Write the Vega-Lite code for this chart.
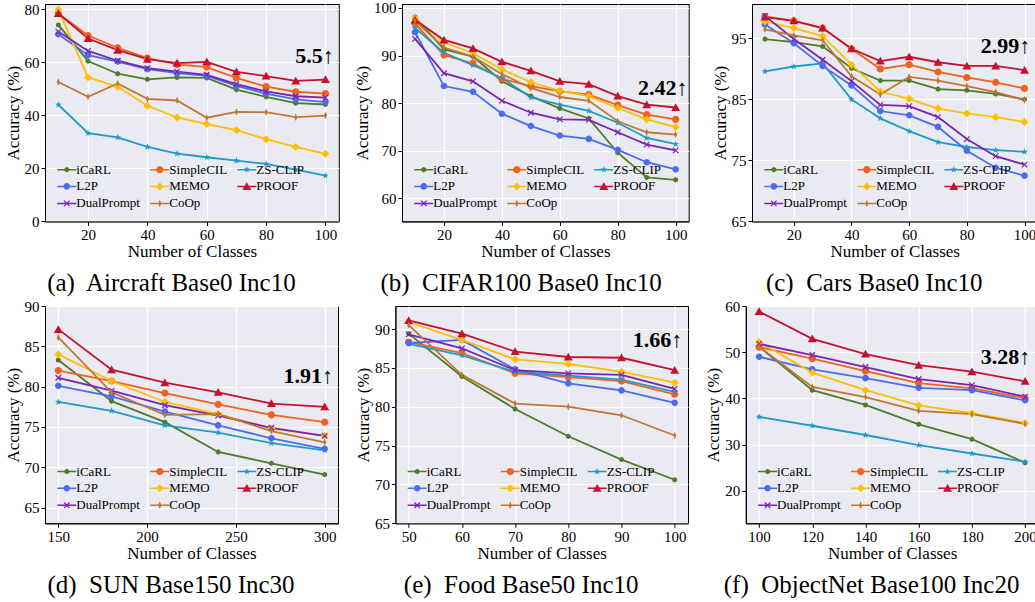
{
  "$schema": "https://vega.github.io/schema/vega-lite/v6.json",
  "background": "white",
  "padding": {"left": 3, "top": 0, "right": 0, "bottom": 0},
  "datasets": {
    "a": [
      {"m":"iCaRL","x":10,"y":74.1},{"m":"iCaRL","x":20,"y":60.5},{"m":"iCaRL","x":30,"y":55.7},{"m":"iCaRL","x":40,"y":53.6},{"m":"iCaRL","x":50,"y":54.3},{"m":"iCaRL","x":60,"y":54.1},{"m":"iCaRL","x":70,"y":49.7},{"m":"iCaRL","x":80,"y":47.0},{"m":"iCaRL","x":90,"y":44.6},{"m":"iCaRL","x":100,"y":44.1},
      {"m":"SimpleCIL","x":10,"y":78.4},{"m":"SimpleCIL","x":20,"y":70.1},{"m":"SimpleCIL","x":30,"y":65.5},{"m":"SimpleCIL","x":40,"y":61.6},{"m":"SimpleCIL","x":50,"y":59.2},{"m":"SimpleCIL","x":60,"y":58.2},{"m":"SimpleCIL","x":70,"y":54.1},{"m":"SimpleCIL","x":80,"y":50.8},{"m":"SimpleCIL","x":90,"y":48.9},{"m":"SimpleCIL","x":100,"y":48.2},
      {"m":"ZS-CLIP","x":10,"y":44.0},{"m":"ZS-CLIP","x":20,"y":33.3},{"m":"ZS-CLIP","x":30,"y":31.7},{"m":"ZS-CLIP","x":40,"y":28.1},{"m":"ZS-CLIP","x":50,"y":25.6},{"m":"ZS-CLIP","x":60,"y":24.2},{"m":"ZS-CLIP","x":70,"y":22.9},{"m":"ZS-CLIP","x":80,"y":21.7},{"m":"ZS-CLIP","x":90,"y":19.5},{"m":"ZS-CLIP","x":100,"y":17.3},
      {"m":"L2P","x":10,"y":70.6},{"m":"L2P","x":20,"y":62.7},{"m":"L2P","x":30,"y":60.3},{"m":"L2P","x":40,"y":57.4},{"m":"L2P","x":50,"y":55.9},{"m":"L2P","x":60,"y":54.9},{"m":"L2P","x":70,"y":51.1},{"m":"L2P","x":80,"y":48.2},{"m":"L2P","x":90,"y":46.0},{"m":"L2P","x":100,"y":45.0},
      {"m":"MEMO","x":10,"y":79.8},{"m":"MEMO","x":20,"y":54.3},{"m":"MEMO","x":30,"y":50.8},{"m":"MEMO","x":40,"y":43.6},{"m":"MEMO","x":50,"y":39.2},{"m":"MEMO","x":60,"y":36.7},{"m":"MEMO","x":70,"y":34.4},{"m":"MEMO","x":80,"y":31.0},{"m":"MEMO","x":90,"y":28.1},{"m":"MEMO","x":100,"y":25.5},
      {"m":"PROOF","x":10,"y":78.4},{"m":"PROOF","x":20,"y":69.0},{"m":"PROOF","x":30,"y":64.6},{"m":"PROOF","x":40,"y":61.2},{"m":"PROOF","x":50,"y":59.7},{"m":"PROOF","x":60,"y":60.2},{"m":"PROOF","x":70,"y":56.4},{"m":"PROOF","x":80,"y":54.8},{"m":"PROOF","x":90,"y":53.0},{"m":"PROOF","x":100,"y":53.5},
      {"m":"DualPrompt","x":10,"y":71.6},{"m":"DualPrompt","x":20,"y":64.3},{"m":"DualPrompt","x":30,"y":60.6},{"m":"DualPrompt","x":40,"y":57.8},{"m":"DualPrompt","x":50,"y":56.5},{"m":"DualPrompt","x":60,"y":55.3},{"m":"DualPrompt","x":70,"y":51.8},{"m":"DualPrompt","x":80,"y":49.0},{"m":"DualPrompt","x":90,"y":47.2},{"m":"DualPrompt","x":100,"y":46.7},
      {"m":"CoOp","x":10,"y":52.6},{"m":"CoOp","x":20,"y":47.0},{"m":"CoOp","x":30,"y":52.0},{"m":"CoOp","x":40,"y":46.2},{"m":"CoOp","x":50,"y":45.6},{"m":"CoOp","x":60,"y":39.1},{"m":"CoOp","x":70,"y":41.3},{"m":"CoOp","x":80,"y":41.2},{"m":"CoOp","x":90,"y":39.3},{"m":"CoOp","x":100,"y":39.9}
    ],
    "b": [
      {"m":"iCaRL","x":10,"y":98.1},{"m":"iCaRL","x":20,"y":91.3},{"m":"iCaRL","x":30,"y":89.8},{"m":"iCaRL","x":40,"y":84.6},{"m":"iCaRL","x":50,"y":81.5},{"m":"iCaRL","x":60,"y":78.9},{"m":"iCaRL","x":70,"y":76.8},{"m":"iCaRL","x":80,"y":69.6},{"m":"iCaRL","x":90,"y":64.4},{"m":"iCaRL","x":100,"y":63.9},
      {"m":"SimpleCIL","x":10,"y":96.7},{"m":"SimpleCIL","x":20,"y":90.1},{"m":"SimpleCIL","x":30,"y":88.4},{"m":"SimpleCIL","x":40,"y":85.1},{"m":"SimpleCIL","x":50,"y":83.6},{"m":"SimpleCIL","x":60,"y":82.5},{"m":"SimpleCIL","x":70,"y":81.8},{"m":"SimpleCIL","x":80,"y":79.6},{"m":"SimpleCIL","x":90,"y":77.6},{"m":"SimpleCIL","x":100,"y":76.6},
      {"m":"ZS-CLIP","x":10,"y":95.8},{"m":"ZS-CLIP","x":20,"y":90.6},{"m":"ZS-CLIP","x":30,"y":88.0},{"m":"ZS-CLIP","x":40,"y":85.3},{"m":"ZS-CLIP","x":50,"y":81.2},{"m":"ZS-CLIP","x":60,"y":79.7},{"m":"ZS-CLIP","x":70,"y":78.4},{"m":"ZS-CLIP","x":80,"y":75.9},{"m":"ZS-CLIP","x":90,"y":72.7},{"m":"ZS-CLIP","x":100,"y":71.4},
      {"m":"L2P","x":10,"y":94.9},{"m":"L2P","x":20,"y":83.6},{"m":"L2P","x":30,"y":82.4},{"m":"L2P","x":40,"y":77.8},{"m":"L2P","x":50,"y":75.2},{"m":"L2P","x":60,"y":73.2},{"m":"L2P","x":70,"y":72.5},{"m":"L2P","x":80,"y":70.2},{"m":"L2P","x":90,"y":67.6},{"m":"L2P","x":100,"y":66.1},
      {"m":"MEMO","x":10,"y":97.8},{"m":"MEMO","x":20,"y":92.8},{"m":"MEMO","x":30,"y":90.5},{"m":"MEMO","x":40,"y":87.1},{"m":"MEMO","x":50,"y":84.4},{"m":"MEMO","x":60,"y":82.6},{"m":"MEMO","x":70,"y":81.5},{"m":"MEMO","x":80,"y":79.0},{"m":"MEMO","x":90,"y":76.6},{"m":"MEMO","x":100,"y":75.0},
      {"m":"PROOF","x":10,"y":97.5},{"m":"PROOF","x":20,"y":93.3},{"m":"PROOF","x":30,"y":91.5},{"m":"PROOF","x":40,"y":88.7},{"m":"PROOF","x":50,"y":86.8},{"m":"PROOF","x":60,"y":84.6},{"m":"PROOF","x":70,"y":84.0},{"m":"PROOF","x":80,"y":81.5},{"m":"PROOF","x":90,"y":79.7},{"m":"PROOF","x":100,"y":79.1},
      {"m":"DualPrompt","x":10,"y":93.5},{"m":"DualPrompt","x":20,"y":86.3},{"m":"DualPrompt","x":30,"y":84.6},{"m":"DualPrompt","x":40,"y":80.5},{"m":"DualPrompt","x":50,"y":78.0},{"m":"DualPrompt","x":60,"y":76.6},{"m":"DualPrompt","x":70,"y":76.5},{"m":"DualPrompt","x":80,"y":73.9},{"m":"DualPrompt","x":90,"y":71.3},{"m":"DualPrompt","x":100,"y":70.1},
      {"m":"CoOp","x":10,"y":97.3},{"m":"CoOp","x":20,"y":91.7},{"m":"CoOp","x":30,"y":89.8},{"m":"CoOp","x":40,"y":86.1},{"m":"CoOp","x":50,"y":83.2},{"m":"CoOp","x":60,"y":81.3},{"m":"CoOp","x":70,"y":80.5},{"m":"CoOp","x":80,"y":76.2},{"m":"CoOp","x":90,"y":73.9},{"m":"CoOp","x":100,"y":73.4}
    ],
    "c": [
      {"m":"iCaRL","x":10,"y":94.9},{"m":"iCaRL","x":20,"y":94.4},{"m":"iCaRL","x":30,"y":93.7},{"m":"iCaRL","x":40,"y":90.1},{"m":"iCaRL","x":50,"y":88.1},{"m":"iCaRL","x":60,"y":88.1},{"m":"iCaRL","x":70,"y":86.7},{"m":"iCaRL","x":80,"y":86.5},{"m":"iCaRL","x":90,"y":85.9},{"m":"iCaRL","x":100,"y":85.0},
      {"m":"SimpleCIL","x":10,"y":98.6},{"m":"SimpleCIL","x":20,"y":97.9},{"m":"SimpleCIL","x":30,"y":96.7},{"m":"SimpleCIL","x":40,"y":93.3},{"m":"SimpleCIL","x":50,"y":90.0},{"m":"SimpleCIL","x":60,"y":90.7},{"m":"SimpleCIL","x":70,"y":89.5},{"m":"SimpleCIL","x":80,"y":88.6},{"m":"SimpleCIL","x":90,"y":87.8},{"m":"SimpleCIL","x":100,"y":86.8},
      {"m":"ZS-CLIP","x":10,"y":89.6},{"m":"ZS-CLIP","x":20,"y":90.4},{"m":"ZS-CLIP","x":30,"y":90.9},{"m":"ZS-CLIP","x":40,"y":85.0},{"m":"ZS-CLIP","x":50,"y":81.9},{"m":"ZS-CLIP","x":60,"y":79.8},{"m":"ZS-CLIP","x":70,"y":78.0},{"m":"ZS-CLIP","x":80,"y":77.2},{"m":"ZS-CLIP","x":90,"y":76.7},{"m":"ZS-CLIP","x":100,"y":76.4},
      {"m":"L2P","x":10,"y":97.3},{"m":"L2P","x":20,"y":94.2},{"m":"L2P","x":30,"y":90.5},{"m":"L2P","x":40,"y":87.3},{"m":"L2P","x":50,"y":83.1},{"m":"L2P","x":60,"y":82.4},{"m":"L2P","x":70,"y":80.5},{"m":"L2P","x":80,"y":76.6},{"m":"L2P","x":90,"y":73.8},{"m":"L2P","x":100,"y":72.5},
      {"m":"MEMO","x":10,"y":97.8},{"m":"MEMO","x":20,"y":96.7},{"m":"MEMO","x":30,"y":95.4},{"m":"MEMO","x":40,"y":90.7},{"m":"MEMO","x":50,"y":86.3},{"m":"MEMO","x":60,"y":85.1},{"m":"MEMO","x":70,"y":83.5},{"m":"MEMO","x":80,"y":82.7},{"m":"MEMO","x":90,"y":82.1},{"m":"MEMO","x":100,"y":81.3},
      {"m":"PROOF","x":10,"y":98.5},{"m":"PROOF","x":20,"y":97.9},{"m":"PROOF","x":30,"y":96.7},{"m":"PROOF","x":40,"y":93.3},{"m":"PROOF","x":50,"y":91.3},{"m":"PROOF","x":60,"y":92.0},{"m":"PROOF","x":70,"y":91.1},{"m":"PROOF","x":80,"y":90.5},{"m":"PROOF","x":90,"y":90.5},{"m":"PROOF","x":100,"y":89.8},
      {"m":"DualPrompt","x":10,"y":98.7},{"m":"DualPrompt","x":20,"y":94.9},{"m":"DualPrompt","x":30,"y":91.5},{"m":"DualPrompt","x":40,"y":88.0},{"m":"DualPrompt","x":50,"y":84.1},{"m":"DualPrompt","x":60,"y":83.9},{"m":"DualPrompt","x":70,"y":82.1},{"m":"DualPrompt","x":80,"y":78.5},{"m":"DualPrompt","x":90,"y":75.7},{"m":"DualPrompt","x":100,"y":74.3},
      {"m":"CoOp","x":10,"y":96.5},{"m":"CoOp","x":20,"y":95.5},{"m":"CoOp","x":30,"y":94.7},{"m":"CoOp","x":40,"y":88.8},{"m":"CoOp","x":50,"y":85.8},{"m":"CoOp","x":60,"y":88.7},{"m":"CoOp","x":70,"y":88.1},{"m":"CoOp","x":80,"y":87.2},{"m":"CoOp","x":90,"y":86.2},{"m":"CoOp","x":100,"y":84.9}
    ],
    "d": [
      {"m":"iCaRL","x":150,"y":83.3},{"m":"iCaRL","x":180,"y":78.2},{"m":"iCaRL","x":210,"y":75.6},{"m":"iCaRL","x":240,"y":71.9},{"m":"iCaRL","x":270,"y":70.5},{"m":"iCaRL","x":300,"y":69.1},
      {"m":"SimpleCIL","x":150,"y":82.0},{"m":"SimpleCIL","x":180,"y":80.7},{"m":"SimpleCIL","x":210,"y":79.2},{"m":"SimpleCIL","x":240,"y":77.8},{"m":"SimpleCIL","x":270,"y":76.5},{"m":"SimpleCIL","x":300,"y":75.6},
      {"m":"ZS-CLIP","x":150,"y":78.1},{"m":"ZS-CLIP","x":180,"y":77.0},{"m":"ZS-CLIP","x":210,"y":75.2},{"m":"ZS-CLIP","x":240,"y":74.3},{"m":"ZS-CLIP","x":270,"y":73.0},{"m":"ZS-CLIP","x":300,"y":72.1},
      {"m":"L2P","x":150,"y":80.1},{"m":"L2P","x":180,"y":78.8},{"m":"L2P","x":210,"y":76.9},{"m":"L2P","x":240,"y":75.2},{"m":"L2P","x":270,"y":73.6},{"m":"L2P","x":300,"y":72.3},
      {"m":"MEMO","x":150,"y":84.0},{"m":"MEMO","x":180,"y":80.7},{"m":"MEMO","x":210,"y":78.1},{"m":"MEMO","x":240,"y":76.6},{"m":"MEMO","x":270,"y":74.8},{"m":"MEMO","x":300,"y":73.9},
      {"m":"PROOF","x":150,"y":87.1},{"m":"PROOF","x":180,"y":82.1},{"m":"PROOF","x":210,"y":80.5},{"m":"PROOF","x":240,"y":79.3},{"m":"PROOF","x":270,"y":77.9},{"m":"PROOF","x":300,"y":77.5},
      {"m":"DualPrompt","x":150,"y":81.1},{"m":"DualPrompt","x":180,"y":79.5},{"m":"DualPrompt","x":210,"y":77.7},{"m":"DualPrompt","x":240,"y":76.4},{"m":"DualPrompt","x":270,"y":74.9},{"m":"DualPrompt","x":300,"y":73.9},
      {"m":"CoOp","x":150,"y":86.1},{"m":"CoOp","x":180,"y":79.3},{"m":"CoOp","x":210,"y":76.5},{"m":"CoOp","x":240,"y":76.6},{"m":"CoOp","x":270,"y":74.5},{"m":"CoOp","x":300,"y":73.1}
    ],
    "e": [
      {"m":"iCaRL","x":50,"y":89.4},{"m":"iCaRL","x":60,"y":83.9},{"m":"iCaRL","x":70,"y":79.7},{"m":"iCaRL","x":80,"y":76.2},{"m":"iCaRL","x":90,"y":73.2},{"m":"iCaRL","x":100,"y":70.6},
      {"m":"SimpleCIL","x":50,"y":88.3},{"m":"SimpleCIL","x":60,"y":86.9},{"m":"SimpleCIL","x":70,"y":84.3},{"m":"SimpleCIL","x":80,"y":83.8},{"m":"SimpleCIL","x":90,"y":83.3},{"m":"SimpleCIL","x":100,"y":81.6},
      {"m":"ZS-CLIP","x":50,"y":88.1},{"m":"ZS-CLIP","x":60,"y":86.6},{"m":"ZS-CLIP","x":70,"y":84.5},{"m":"ZS-CLIP","x":80,"y":84.0},{"m":"ZS-CLIP","x":90,"y":83.5},{"m":"ZS-CLIP","x":100,"y":81.9},
      {"m":"L2P","x":50,"y":88.2},{"m":"L2P","x":60,"y":88.6},{"m":"L2P","x":70,"y":84.8},{"m":"L2P","x":80,"y":83.0},{"m":"L2P","x":90,"y":82.1},{"m":"L2P","x":100,"y":80.5},
      {"m":"MEMO","x":50,"y":90.9},{"m":"MEMO","x":60,"y":88.6},{"m":"MEMO","x":70,"y":86.1},{"m":"MEMO","x":80,"y":85.5},{"m":"MEMO","x":90,"y":84.5},{"m":"MEMO","x":100,"y":83.1},
      {"m":"PROOF","x":50,"y":91.1},{"m":"PROOF","x":60,"y":89.4},{"m":"PROOF","x":70,"y":87.1},{"m":"PROOF","x":80,"y":86.4},{"m":"PROOF","x":90,"y":86.3},{"m":"PROOF","x":100,"y":84.7},
      {"m":"DualPrompt","x":50,"y":89.3},{"m":"DualPrompt","x":60,"y":87.5},{"m":"DualPrompt","x":70,"y":84.7},{"m":"DualPrompt","x":80,"y":84.3},{"m":"DualPrompt","x":90,"y":84.1},{"m":"DualPrompt","x":100,"y":82.3},
      {"m":"CoOp","x":50,"y":90.5},{"m":"CoOp","x":60,"y":84.1},{"m":"CoOp","x":70,"y":80.4},{"m":"CoOp","x":80,"y":80.0},{"m":"CoOp","x":90,"y":78.9},{"m":"CoOp","x":100,"y":76.3}
    ],
    "f": [
      {"m":"iCaRL","x":100,"y":51.2},{"m":"iCaRL","x":120,"y":41.8},{"m":"iCaRL","x":140,"y":38.6},{"m":"iCaRL","x":160,"y":34.4},{"m":"iCaRL","x":180,"y":31.2},{"m":"iCaRL","x":200,"y":26.1},
      {"m":"SimpleCIL","x":100,"y":51.1},{"m":"SimpleCIL","x":120,"y":48.6},{"m":"SimpleCIL","x":140,"y":45.9},{"m":"SimpleCIL","x":160,"y":43.3},{"m":"SimpleCIL","x":180,"y":42.2},{"m":"SimpleCIL","x":200,"y":40.1},
      {"m":"ZS-CLIP","x":100,"y":36.0},{"m":"ZS-CLIP","x":120,"y":34.1},{"m":"ZS-CLIP","x":140,"y":32.1},{"m":"ZS-CLIP","x":160,"y":29.9},{"m":"ZS-CLIP","x":180,"y":28.1},{"m":"ZS-CLIP","x":200,"y":26.3},
      {"m":"L2P","x":100,"y":49.0},{"m":"L2P","x":120,"y":46.3},{"m":"L2P","x":140,"y":44.4},{"m":"L2P","x":160,"y":42.3},{"m":"L2P","x":180,"y":41.8},{"m":"L2P","x":200,"y":39.6},
      {"m":"MEMO","x":100,"y":52.2},{"m":"MEMO","x":120,"y":45.6},{"m":"MEMO","x":140,"y":41.8},{"m":"MEMO","x":160,"y":38.5},{"m":"MEMO","x":180,"y":36.8},{"m":"MEMO","x":200,"y":34.7},
      {"m":"PROOF","x":100,"y":58.8},{"m":"PROOF","x":120,"y":52.9},{"m":"PROOF","x":140,"y":49.6},{"m":"PROOF","x":160,"y":47.2},{"m":"PROOF","x":180,"y":45.8},{"m":"PROOF","x":200,"y":43.7},
      {"m":"DualPrompt","x":100,"y":51.8},{"m":"DualPrompt","x":120,"y":49.4},{"m":"DualPrompt","x":140,"y":46.8},{"m":"DualPrompt","x":160,"y":44.2},{"m":"DualPrompt","x":180,"y":42.9},{"m":"DualPrompt","x":200,"y":40.4},
      {"m":"CoOp","x":100,"y":51.2},{"m":"CoOp","x":120,"y":42.5},{"m":"CoOp","x":140,"y":40.3},{"m":"CoOp","x":160,"y":37.3},{"m":"CoOp","x":180,"y":36.6},{"m":"CoOp","x":200,"y":34.5}
    ]
  },
  "resolve": {"scale": {"color": "independent", "shape": "independent"}},
  "vconcat": [
    {
      "bounds": "flush",
      "spacing": 63,
      "resolve": {"scale": {"color": "independent", "shape": "independent"}},
      "hconcat": [
        {
          "width": 293.8, "height": 217.4,
          "data": {"name": "a"},
          "title": {"text": "(a)\u00a0 Aircraft Base0 Inc10"},
          "layer": [
            {"mark": {"type": "line", "strokeWidth": 1.8},
             "encoding": {
               "x": {"field": "x", "type": "quantitative", "scale": {"domain": [5.5, 104.5], "nice": false, "zero": false}, "axis": {"values": [20,40,60,80,100], "title": "Number of Classes"}},
               "y": {"field": "y", "type": "quantitative", "scale": {"domain": [0, 82], "nice": false, "zero": false}, "axis": {"values": [0,20,40,60,80], "title": "Accuracy (%)"}},
               "color": {"field": "m", "type": "nominal", "scale": {"domain": ["iCaRL","SimpleCIL","ZS-CLIP","L2P","MEMO","PROOF","DualPrompt","CoOp"]}}}},
            {"mark": {"type": "point", "filled": true, "opacity": 1, "size": 100},
             "encoding": {
               "x": {"field": "x", "type": "quantitative"},
               "y": {"field": "y", "type": "quantitative"},
               "color": {"field": "m", "type": "nominal", "scale": {"domain": ["iCaRL","SimpleCIL","ZS-CLIP","L2P","MEMO","PROOF","DualPrompt","CoOp"]}, "legend": {"title": null, "orient": "none", "legendX": 15.3, "legendY": 158.9, "symbolType": {"expr": "{'iCaRL':'M-1.9,-0.15H1.9V0.15H-1.9ZM0,-0.55L0.476,-0.275L0.476,0.275L0,0.55L-0.476,0.275L-0.476,-0.275Z','SimpleCIL':'M-1.9,-0.15H1.9V0.15H-1.9ZM-0.72,0A0.72,0.72,0,1,1,0.72,0A0.72,0.72,0,1,1,-0.72,0Z','ZS-CLIP':'M-1.9,-0.15H1.9V0.15H-1.9ZM0,-0.72L0.17,-0.23L0.68,-0.22L0.27,0.09L0.42,0.58L0,0.29L-0.42,0.58L-0.27,0.09L-0.68,-0.22L-0.17,-0.23Z','L2P':'M-1.9,-0.15H1.9V0.15H-1.9ZM-0.66,0A0.66,0.66,0,1,1,0.66,0A0.66,0.66,0,1,1,-0.66,0Z','MEMO':'M-1.9,-0.15H1.9V0.15H-1.9ZM0,-0.8L0.8,0L0,0.8L-0.8,0Z','PROOF':'M-1.9,-0.15H1.9V0.15H-1.9ZM0,-0.85L0.9,0.7L-0.9,0.7Z','DualPrompt':'M-1.9,-0.15H1.9V0.15H-1.9ZM-0.465,-0.635L0.635,0.465L0.465,0.635L-0.635,-0.465ZM-0.465,0.635L-0.635,0.465L0.465,-0.635L0.635,-0.465Z','CoOp':'M-1.9,-0.15H1.9V0.15H-1.9ZM0,-0.75L0.32,0L0,0.75L-0.32,0Z'}[datum.value]"}}},
               "shape": {"field": "m", "type": "nominal", "scale": {"domain": ["CoOp","DualPrompt","PROOF","MEMO","L2P","ZS-CLIP","SimpleCIL","iCaRL"]}, "legend": null}}},
            {"data": {"values": [{"t": "5.5\u2191"}]},
             "mark": {"type": "text", "font": "Liberation Serif", "fontWeight": "bold", "fontSize": 22, "align": "right", "baseline": "middle", "color": "black"},
             "encoding": {"x": {"datum": 102.8}, "y": {"datum": 62.5}, "text": {"field": "t", "type": "nominal"}}}
          ]
        },
        {
          "width": 286.7, "height": 217.4,
          "data": {"name": "b"},
          "title": {"text": "(b)\u00a0 CIFAR100 Base0 Inc10"},
          "layer": [
            {"mark": {"type": "line", "strokeWidth": 1.8},
             "encoding": {
               "x": {"field": "x", "type": "quantitative", "scale": {"domain": [5.5, 104.5], "nice": false, "zero": false}, "axis": {"values": [20,40,60,80,100], "title": "Number of Classes"}},
               "y": {"field": "y", "type": "quantitative", "scale": {"domain": [55.17, 100.84], "nice": false, "zero": false}, "axis": {"values": [60,70,80,90,100], "title": "Accuracy (%)"}},
               "color": {"field": "m", "type": "nominal", "scale": {"domain": ["iCaRL","SimpleCIL","ZS-CLIP","L2P","MEMO","PROOF","DualPrompt","CoOp"]}}}},
            {"mark": {"type": "point", "filled": true, "opacity": 1, "size": 100},
             "encoding": {
               "x": {"field": "x", "type": "quantitative"},
               "y": {"field": "y", "type": "quantitative"},
               "color": {"field": "m", "type": "nominal", "scale": {"domain": ["iCaRL","SimpleCIL","ZS-CLIP","L2P","MEMO","PROOF","DualPrompt","CoOp"]}, "legend": {"title": null, "orient": "none", "legendX": 15.3, "legendY": 158.9, "symbolType": {"expr": "{'iCaRL':'M-1.9,-0.15H1.9V0.15H-1.9ZM0,-0.55L0.476,-0.275L0.476,0.275L0,0.55L-0.476,0.275L-0.476,-0.275Z','SimpleCIL':'M-1.9,-0.15H1.9V0.15H-1.9ZM-0.72,0A0.72,0.72,0,1,1,0.72,0A0.72,0.72,0,1,1,-0.72,0Z','ZS-CLIP':'M-1.9,-0.15H1.9V0.15H-1.9ZM0,-0.72L0.17,-0.23L0.68,-0.22L0.27,0.09L0.42,0.58L0,0.29L-0.42,0.58L-0.27,0.09L-0.68,-0.22L-0.17,-0.23Z','L2P':'M-1.9,-0.15H1.9V0.15H-1.9ZM-0.66,0A0.66,0.66,0,1,1,0.66,0A0.66,0.66,0,1,1,-0.66,0Z','MEMO':'M-1.9,-0.15H1.9V0.15H-1.9ZM0,-0.8L0.8,0L0,0.8L-0.8,0Z','PROOF':'M-1.9,-0.15H1.9V0.15H-1.9ZM0,-0.85L0.9,0.7L-0.9,0.7Z','DualPrompt':'M-1.9,-0.15H1.9V0.15H-1.9ZM-0.465,-0.635L0.635,0.465L0.465,0.635L-0.635,-0.465ZM-0.465,0.635L-0.635,0.465L0.465,-0.635L0.635,-0.465Z','CoOp':'M-1.9,-0.15H1.9V0.15H-1.9ZM0,-0.75L0.32,0L0,0.75L-0.32,0Z'}[datum.value]"}}},
               "shape": {"field": "m", "type": "nominal", "scale": {"domain": ["CoOp","DualPrompt","PROOF","MEMO","L2P","ZS-CLIP","SimpleCIL","iCaRL"]}, "legend": null}}},
            {"data": {"values": [{"t": "2.42\u2191"}]},
             "mark": {"type": "text", "font": "Liberation Serif", "fontWeight": "bold", "fontSize": 22, "align": "right", "baseline": "middle", "color": "black"},
             "encoding": {"x": {"datum": 104.1}, "y": {"datum": 83.2}, "text": {"field": "t", "type": "nominal"}}}
          ]
        },
        {
          "width": 285.5, "height": 217.4,
          "data": {"name": "c"},
          "title": {"text": "(c)\u00a0 Cars Base0 Inc10"},
          "layer": [
            {"mark": {"type": "line", "strokeWidth": 1.8},
             "encoding": {
               "x": {"field": "x", "type": "quantitative", "scale": {"domain": [5.5, 104.5], "nice": false, "zero": false}, "axis": {"values": [20,40,60,80,100], "title": "Number of Classes"}},
               "y": {"field": "y", "type": "quantitative", "scale": {"domain": [65, 100.65], "nice": false, "zero": false}, "axis": {"values": [65,70,75,80,85,90,95,100], "title": "Accuracy (%)"}},
               "color": {"field": "m", "type": "nominal", "scale": {"domain": ["iCaRL","SimpleCIL","ZS-CLIP","L2P","MEMO","PROOF","DualPrompt","CoOp"]}}}},
            {"mark": {"type": "point", "filled": true, "opacity": 1, "size": 100},
             "encoding": {
               "x": {"field": "x", "type": "quantitative"},
               "y": {"field": "y", "type": "quantitative"},
               "color": {"field": "m", "type": "nominal", "scale": {"domain": ["iCaRL","SimpleCIL","ZS-CLIP","L2P","MEMO","PROOF","DualPrompt","CoOp"]}, "legend": {"title": null, "orient": "none", "legendX": 15.3, "legendY": 158.9, "symbolType": {"expr": "{'iCaRL':'M-1.9,-0.15H1.9V0.15H-1.9ZM0,-0.55L0.476,-0.275L0.476,0.275L0,0.55L-0.476,0.275L-0.476,-0.275Z','SimpleCIL':'M-1.9,-0.15H1.9V0.15H-1.9ZM-0.72,0A0.72,0.72,0,1,1,0.72,0A0.72,0.72,0,1,1,-0.72,0Z','ZS-CLIP':'M-1.9,-0.15H1.9V0.15H-1.9ZM0,-0.72L0.17,-0.23L0.68,-0.22L0.27,0.09L0.42,0.58L0,0.29L-0.42,0.58L-0.27,0.09L-0.68,-0.22L-0.17,-0.23Z','L2P':'M-1.9,-0.15H1.9V0.15H-1.9ZM-0.66,0A0.66,0.66,0,1,1,0.66,0A0.66,0.66,0,1,1,-0.66,0Z','MEMO':'M-1.9,-0.15H1.9V0.15H-1.9ZM0,-0.8L0.8,0L0,0.8L-0.8,0Z','PROOF':'M-1.9,-0.15H1.9V0.15H-1.9ZM0,-0.85L0.9,0.7L-0.9,0.7Z','DualPrompt':'M-1.9,-0.15H1.9V0.15H-1.9ZM-0.465,-0.635L0.635,0.465L0.465,0.635L-0.635,-0.465ZM-0.465,0.635L-0.635,0.465L0.465,-0.635L0.635,-0.465Z','CoOp':'M-1.9,-0.15H1.9V0.15H-1.9ZM0,-0.75L0.32,0L0,0.75L-0.32,0Z'}[datum.value]"}}},
               "shape": {"field": "m", "type": "nominal", "scale": {"domain": ["CoOp","DualPrompt","PROOF","MEMO","L2P","ZS-CLIP","SimpleCIL","iCaRL"]}, "legend": null}}},
            {"data": {"values": [{"t": "2.99\u2191"}]},
             "mark": {"type": "text", "font": "Liberation Serif", "fontWeight": "bold", "fontSize": 22, "align": "right", "baseline": "middle", "color": "black"},
             "encoding": {"x": {"datum": 102.0}, "y": {"datum": 93.8}, "text": {"field": "t", "type": "nominal"}}}
          ]
        }
      ]
    },
    {
      "bounds": "flush",
      "spacing": 57.4,
      "resolve": {"scale": {"color": "independent", "shape": "independent"}},
      "hconcat": [
        {
          "width": 293, "height": 217.3,
          "data": {"name": "d"},
          "title": {"text": "(d)\u00a0 SUN Base150 Inc30"},
          "layer": [
            {"mark": {"type": "line", "strokeWidth": 1.8},
             "encoding": {
               "x": {"field": "x", "type": "quantitative", "scale": {"domain": [142.5, 307.5], "nice": false, "zero": false}, "axis": {"values": [150,200,250,300], "title": "Number of Classes"}},
               "y": {"field": "y", "type": "quantitative", "scale": {"domain": [63.06, 90], "nice": false, "zero": false}, "axis": {"values": [65,70,75,80,85,90], "title": "Accuracy (%)"}},
               "color": {"field": "m", "type": "nominal", "scale": {"domain": ["iCaRL","SimpleCIL","ZS-CLIP","L2P","MEMO","PROOF","DualPrompt","CoOp"]}}}},
            {"mark": {"type": "point", "filled": true, "opacity": 1, "size": 100},
             "encoding": {
               "x": {"field": "x", "type": "quantitative"},
               "y": {"field": "y", "type": "quantitative"},
               "color": {"field": "m", "type": "nominal", "scale": {"domain": ["iCaRL","SimpleCIL","ZS-CLIP","L2P","MEMO","PROOF","DualPrompt","CoOp"]}, "legend": {"title": null, "orient": "none", "legendX": 15.3, "legendY": 158.8, "symbolType": {"expr": "{'iCaRL':'M-1.9,-0.15H1.9V0.15H-1.9ZM0,-0.55L0.476,-0.275L0.476,0.275L0,0.55L-0.476,0.275L-0.476,-0.275Z','SimpleCIL':'M-1.9,-0.15H1.9V0.15H-1.9ZM-0.72,0A0.72,0.72,0,1,1,0.72,0A0.72,0.72,0,1,1,-0.72,0Z','ZS-CLIP':'M-1.9,-0.15H1.9V0.15H-1.9ZM0,-0.72L0.17,-0.23L0.68,-0.22L0.27,0.09L0.42,0.58L0,0.29L-0.42,0.58L-0.27,0.09L-0.68,-0.22L-0.17,-0.23Z','L2P':'M-1.9,-0.15H1.9V0.15H-1.9ZM-0.66,0A0.66,0.66,0,1,1,0.66,0A0.66,0.66,0,1,1,-0.66,0Z','MEMO':'M-1.9,-0.15H1.9V0.15H-1.9ZM0,-0.8L0.8,0L0,0.8L-0.8,0Z','PROOF':'M-1.9,-0.15H1.9V0.15H-1.9ZM0,-0.85L0.9,0.7L-0.9,0.7Z','DualPrompt':'M-1.9,-0.15H1.9V0.15H-1.9ZM-0.465,-0.635L0.635,0.465L0.465,0.635L-0.635,-0.465ZM-0.465,0.635L-0.635,0.465L0.465,-0.635L0.635,-0.465Z','CoOp':'M-1.9,-0.15H1.9V0.15H-1.9ZM0,-0.75L0.32,0L0,0.75L-0.32,0Z'}[datum.value]"}}},
               "shape": {"field": "m", "type": "nominal", "scale": {"domain": ["CoOp","DualPrompt","PROOF","MEMO","L2P","ZS-CLIP","SimpleCIL","iCaRL"]}, "legend": null}}},
            {"data": {"values": [{"t": "1.91\u2191"}]},
             "mark": {"type": "text", "font": "Liberation Serif", "fontWeight": "bold", "fontSize": 22, "align": "right", "baseline": "middle", "color": "black"},
             "encoding": {"x": {"datum": 304.7}, "y": {"datum": 81.3}, "text": {"field": "t", "type": "nominal"}}}
          ]
        },
        {
          "width": 292.6, "height": 217.3,
          "data": {"name": "e"},
          "title": {"text": "(e)\u00a0 Food Base50 Inc10"},
          "layer": [
            {"mark": {"type": "line", "strokeWidth": 1.8},
             "encoding": {
               "x": {"field": "x", "type": "quantitative", "scale": {"domain": [47.5, 102.5], "nice": false, "zero": false}, "axis": {"values": [50,60,70,80,90,100], "title": "Number of Classes"}},
               "y": {"field": "y", "type": "quantitative", "scale": {"domain": [65, 92.96], "nice": false, "zero": false}, "axis": {"values": [65,70,75,80,85,90], "title": "Accuracy (%)"}},
               "color": {"field": "m", "type": "nominal", "scale": {"domain": ["iCaRL","SimpleCIL","ZS-CLIP","L2P","MEMO","PROOF","DualPrompt","CoOp"]}}}},
            {"mark": {"type": "point", "filled": true, "opacity": 1, "size": 100},
             "encoding": {
               "x": {"field": "x", "type": "quantitative"},
               "y": {"field": "y", "type": "quantitative"},
               "color": {"field": "m", "type": "nominal", "scale": {"domain": ["iCaRL","SimpleCIL","ZS-CLIP","L2P","MEMO","PROOF","DualPrompt","CoOp"]}, "legend": {"title": null, "orient": "none", "legendX": 15.3, "legendY": 158.8, "symbolType": {"expr": "{'iCaRL':'M-1.9,-0.15H1.9V0.15H-1.9ZM0,-0.55L0.476,-0.275L0.476,0.275L0,0.55L-0.476,0.275L-0.476,-0.275Z','SimpleCIL':'M-1.9,-0.15H1.9V0.15H-1.9ZM-0.72,0A0.72,0.72,0,1,1,0.72,0A0.72,0.72,0,1,1,-0.72,0Z','ZS-CLIP':'M-1.9,-0.15H1.9V0.15H-1.9ZM0,-0.72L0.17,-0.23L0.68,-0.22L0.27,0.09L0.42,0.58L0,0.29L-0.42,0.58L-0.27,0.09L-0.68,-0.22L-0.17,-0.23Z','L2P':'M-1.9,-0.15H1.9V0.15H-1.9ZM-0.66,0A0.66,0.66,0,1,1,0.66,0A0.66,0.66,0,1,1,-0.66,0Z','MEMO':'M-1.9,-0.15H1.9V0.15H-1.9ZM0,-0.8L0.8,0L0,0.8L-0.8,0Z','PROOF':'M-1.9,-0.15H1.9V0.15H-1.9ZM0,-0.85L0.9,0.7L-0.9,0.7Z','DualPrompt':'M-1.9,-0.15H1.9V0.15H-1.9ZM-0.465,-0.635L0.635,0.465L0.465,0.635L-0.635,-0.465ZM-0.465,0.635L-0.635,0.465L0.465,-0.635L0.635,-0.465Z','CoOp':'M-1.9,-0.15H1.9V0.15H-1.9ZM0,-0.75L0.32,0L0,0.75L-0.32,0Z'}[datum.value]"}}},
               "shape": {"field": "m", "type": "nominal", "scale": {"domain": ["CoOp","DualPrompt","PROOF","MEMO","L2P","ZS-CLIP","SimpleCIL","iCaRL"]}, "legend": null}}},
            {"data": {"values": [{"t": "1.66\u2191"}]},
             "mark": {"type": "text", "font": "Liberation Serif", "fontWeight": "bold", "fontSize": 22, "align": "right", "baseline": "middle", "color": "black"},
             "encoding": {"x": {"datum": 101.4}, "y": {"datum": 88.6}, "text": {"field": "t", "type": "nominal"}}}
          ]
        },
        {
          "width": 292.6, "height": 217.3,
          "data": {"name": "f"},
          "title": {"text": "(f)\u00a0 ObjectNet Base100 Inc20"},
          "layer": [
            {"mark": {"type": "line", "strokeWidth": 1.8},
             "encoding": {
               "x": {"field": "x", "type": "quantitative", "scale": {"domain": [95, 205], "nice": false, "zero": false}, "axis": {"values": [100,120,140,160,180,200], "title": "Number of Classes"}},
               "y": {"field": "y", "type": "quantitative", "scale": {"domain": [13, 60], "nice": false, "zero": false}, "axis": {"values": [20,30,40,50,60], "title": "Accuracy (%)"}},
               "color": {"field": "m", "type": "nominal", "scale": {"domain": ["iCaRL","SimpleCIL","ZS-CLIP","L2P","MEMO","PROOF","DualPrompt","CoOp"]}}}},
            {"mark": {"type": "point", "filled": true, "opacity": 1, "size": 100},
             "encoding": {
               "x": {"field": "x", "type": "quantitative"},
               "y": {"field": "y", "type": "quantitative"},
               "color": {"field": "m", "type": "nominal", "scale": {"domain": ["iCaRL","SimpleCIL","ZS-CLIP","L2P","MEMO","PROOF","DualPrompt","CoOp"]}, "legend": {"title": null, "orient": "none", "legendX": 15.3, "legendY": 158.8, "symbolType": {"expr": "{'iCaRL':'M-1.9,-0.15H1.9V0.15H-1.9ZM0,-0.55L0.476,-0.275L0.476,0.275L0,0.55L-0.476,0.275L-0.476,-0.275Z','SimpleCIL':'M-1.9,-0.15H1.9V0.15H-1.9ZM-0.72,0A0.72,0.72,0,1,1,0.72,0A0.72,0.72,0,1,1,-0.72,0Z','ZS-CLIP':'M-1.9,-0.15H1.9V0.15H-1.9ZM0,-0.72L0.17,-0.23L0.68,-0.22L0.27,0.09L0.42,0.58L0,0.29L-0.42,0.58L-0.27,0.09L-0.68,-0.22L-0.17,-0.23Z','L2P':'M-1.9,-0.15H1.9V0.15H-1.9ZM-0.66,0A0.66,0.66,0,1,1,0.66,0A0.66,0.66,0,1,1,-0.66,0Z','MEMO':'M-1.9,-0.15H1.9V0.15H-1.9ZM0,-0.8L0.8,0L0,0.8L-0.8,0Z','PROOF':'M-1.9,-0.15H1.9V0.15H-1.9ZM0,-0.85L0.9,0.7L-0.9,0.7Z','DualPrompt':'M-1.9,-0.15H1.9V0.15H-1.9ZM-0.465,-0.635L0.635,0.465L0.465,0.635L-0.635,-0.465ZM-0.465,0.635L-0.635,0.465L0.465,-0.635L0.635,-0.465Z','CoOp':'M-1.9,-0.15H1.9V0.15H-1.9ZM0,-0.75L0.32,0L0,0.75L-0.32,0Z'}[datum.value]"}}},
               "shape": {"field": "m", "type": "nominal", "scale": {"domain": ["CoOp","DualPrompt","PROOF","MEMO","L2P","ZS-CLIP","SimpleCIL","iCaRL"]}, "legend": null}}},
            {"data": {"values": [{"t": "3.28\u2191"}]},
             "mark": {"type": "text", "font": "Liberation Serif", "fontWeight": "bold", "fontSize": 22, "align": "right", "baseline": "middle", "color": "black"},
             "encoding": {"x": {"datum": 201.9}, "y": {"datum": 49.0}, "text": {"field": "t", "type": "nominal"}}}
          ]
        }
      ]
    }
  ],
  "spacing": 1,
  "config": {
    "view": {"fill": "#EAEAF2", "stroke": "black", "strokeWidth": 1},
    "axis": {"grid": true, "gridColor": "white", "gridWidth": 1.2, "domainColor": "black", "domainWidth": 1, "tickColor": "black", "tickSize": 4, "tickWidth": 1, "labelFont": "Liberation Serif", "labelFontSize": 15, "labelColor": "black", "labelPadding": 2, "titleFont": "Liberation Serif", "titleFontSize": 17, "titleFontWeight": "normal", "titleColor": "black", "labelFlush": false, "labelOverlap": false},
    "axisY": {"titlePadding": 2},
    "axisX": {"titlePadding": 1},
    "title": {"font": "Liberation Serif", "fontSize": 25, "fontWeight": "normal", "color": "black", "orient": "bottom", "anchor": "middle", "frame": "bounds", "offset": 12},
    "legend": {"direction": "horizontal", "columns": 3, "symbolSize": 100, "labelFont": "Liberation Serif", "labelFontSize": 13, "labelColor": "black", "labelOffset": 3, "rowPadding": 3, "columnPadding": 10, "padding": 0, "symbolStrokeWidth": 0},
    "range": {
      "category": ["#4f7a28", "#f4611c", "#1f9bc8", "#4d6bf0", "#ffbf00", "#c5102e", "#7b22b0", "#bf7736"],
      "symbol": [
        "M0,-0.75L0.32,0L0,0.75L-0.32,0Z",
        "M-0.465,-0.635L0.635,0.465L0.465,0.635L-0.635,-0.465ZM-0.465,0.635L-0.635,0.465L0.465,-0.635L0.635,-0.465Z",
        "M0,-0.85L0.9,0.7L-0.9,0.7Z",
        "M0,-0.8L0.8,0L0,0.8L-0.8,0Z",
        "M-0.66,0A0.66,0.66,0,1,1,0.66,0A0.66,0.66,0,1,1,-0.66,0Z",
        "M0,-0.72L0.17,-0.23L0.68,-0.22L0.27,0.09L0.42,0.58L0,0.29L-0.42,0.58L-0.27,0.09L-0.68,-0.22L-0.17,-0.23Z",
        "M-0.72,0A0.72,0.72,0,1,1,0.72,0A0.72,0.72,0,1,1,-0.72,0Z",
        "M0,-0.55L0.476,-0.275L0.476,0.275L0,0.55L-0.476,0.275L-0.476,-0.275Z"
      ]
    }
  }
}
